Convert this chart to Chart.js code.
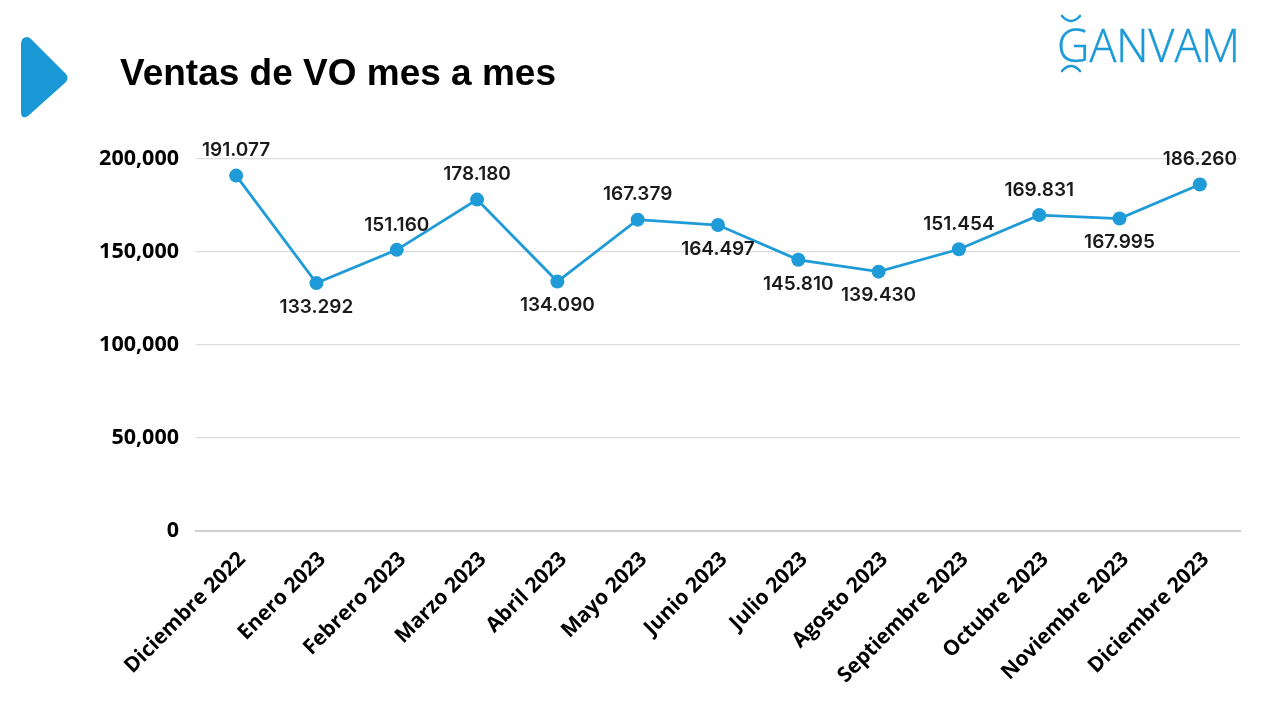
<!DOCTYPE html>
<html>
<head>
<meta charset="utf-8">
<script src="https://cdn.jsdelivr.net/npm/chart.js@4"></script>
<style>
  html, body { margin: 0; padding: 0; background: #fff; }
  #wrap { position: relative; width: 1280px; height: 720px; overflow: hidden; }
  #c { position: absolute; left: 0; top: 0; }
  #title { position: absolute; left: 120px; top: 52px; font-family: "Liberation Sans", Arial, sans-serif; font-weight: bold; font-size: 37px; color: #000; white-space: nowrap; letter-spacing: 0px; }
  #deco { position: absolute; left: 0; top: 0; }
</style>
</head>
<body>
<div id="wrap">
  <canvas id="c" width="1280" height="720"></canvas>
  <svg id="deco" width="1280" height="720">
    <path d="M 27 37 Q 21 37 21 45 L 21 112 Q 21 120 28 116 L 66 82 Q 69 78 66 74 L 31 39 Q 29 37 27 37 Z" fill="#1a98d5"/>
    <text x="1057" y="62" font-family="'Open Sans', 'DejaVu Sans', sans-serif" font-weight="300" font-size="46" textLength="183" lengthAdjust="spacingAndGlyphs" fill="#1b9ad7" stroke="#1b9ad7" stroke-width="0.5">GANVAM</text>
    <path d="M 1062 16 Q 1071 26 1080 16" fill="none" stroke="#1b9ad7" stroke-width="2.6" stroke-linecap="round"/>
    <path d="M 1062 71 Q 1071 61 1080 71" fill="none" stroke="#1b9ad7" stroke-width="2.6" stroke-linecap="round"/>
  </svg>
  <div id="title">Ventas de VO mes a mes</div>
</div>
<script>
const categories = ["Diciembre 2022", "Enero 2023", "Febrero 2023", "Marzo 2023", "Abril 2023", "Mayo 2023", "Junio 2023", "Julio 2023", "Agosto 2023", "Septiembre 2023", "Octubre 2023", "Noviembre 2023", "Diciembre 2023"];
const ventasVO = [191077, 133292, 151160, 178180, 134090, 167379, 164497, 145810, 139430, 151454, 169831, 167995, 186260];
const labelPositions = ["top", "bottom", "top", "top", "bottom", "top", "bottom", "bottom", "bottom", "top", "top", "bottom", "top"];
const yTicks = [0, 50000, 100000, 150000, 200000];

function groupDigits(v, sep) {
  return String(Math.round(v)).replace(/\B(?=(\d{3})+(?!\d))/g, sep);
}

const dataLabelPlugin = {
  id: 'dataLabels',
  afterDatasetsDraw(chart) {
    const ctx = chart.ctx;
    const meta = chart.getDatasetMeta(0);
    ctx.save();
    ctx.font = '600 19px Inter, "Noto Sans", sans-serif';
    ctx.fillStyle = '#1a1a1a';
    ctx.textAlign = 'center';
    ctx.textBaseline = 'middle';
    meta.data.forEach((pt, i) => {
      const up = labelPositions[i] === 'top';
      const y = up ? pt.y - 25 : pt.y + 24;
      ctx.fillText(groupDigits(ventasVO[i], '.'), pt.x, y);
    });
    ctx.restore();
  }
};

new Chart(document.getElementById('c'), {
  type: 'line',
  data: {
    labels: categories,
    datasets: [{
      data: ventasVO,
      borderColor: '#1f9bd7',
      backgroundColor: '#1f9bd7',
      borderWidth: 2.8,
      pointRadius: 7,
      pointHoverRadius: 7,
      pointBackgroundColor: '#1f9bd7',
      pointBorderWidth: 0,
      tension: 0,
      fill: false
    }]
  },
  options: {
    responsive: false,
    animation: false,
    devicePixelRatio: 1,
    layout: { padding: { top: 159, right: 40, left: 0, bottom: 0 } },
    plugins: { legend: { display: false }, tooltip: { enabled: false } },
    scales: {
      x: {
        offset: true,
        grid: { display: false, drawTicks: false },
        border: { display: true, color: '#cfcfcf', width: 2 },
        ticks: {
          autoSkip: false,
          maxRotation: 45,
          minRotation: 45,
          padding: 16,
          labelOffset: 6,
          color: '#000',
          font: { family: '"Open Sans", sans-serif', weight: 'bold', size: 21 }
        },
        afterFit(scale) { scale.height = 189; }
      },
      y: {
        min: 0,
        max: 200000,
        afterBuildTicks(scale) { scale.ticks = yTicks.map(v => ({ value: v })); },
        grid: { color: '#dcdcdc', lineWidth: 1.2, drawTicks: false },
        border: { display: false },
        ticks: {
          padding: 17,
          color: '#000',
          font: { family: '"Open Sans", sans-serif', weight: 'bold', size: 21.5 },
          callback: v => groupDigits(v, ',')
        },
        afterFit(scale) { scale.width = 196; }
      }
    }
  },
  plugins: [dataLabelPlugin]
});
</script>
</body>
</html>
